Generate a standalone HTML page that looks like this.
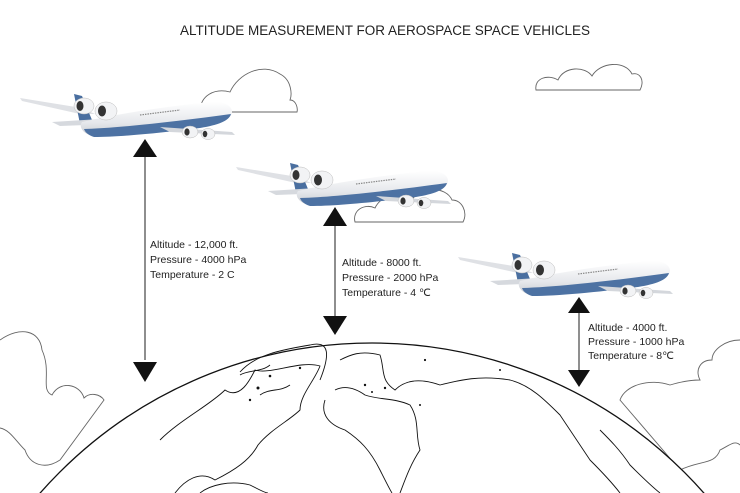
<!DOCTYPE html>
<html><head><meta charset="utf-8"><style>
html,body{margin:0;padding:0;background:#fff;width:740px;height:493px;overflow:hidden}
svg{display:block}
text{font-family:"Liberation Sans",sans-serif;fill:#222}
</style></head><body>
<svg width="740" height="493" viewBox="0 0 740 493" xmlns="http://www.w3.org/2000/svg" style="position:absolute;left:0;top:0">
<defs>
<linearGradient id="fus" x1="0" y1="0" x2="0" y2="1">
<stop offset="0" stop-color="#ffffff"/><stop offset="0.6" stop-color="#e6e8ec"/><stop offset="1" stop-color="#c9ccd2"/>
</linearGradient>
<g id="plane">
<polygon points="0,12 62,22 75,28 60,28 2,15" fill="#dfe1e5"/>
<polygon points="54,8 62,10 72,34 60,38" fill="#4a6fa0"/>
<polygon points="32,36 80,33 92,38 40,40" fill="#d6d9de"/>
<path d="M62,36 C95,28 150,20 190,16 C205,15 212,20 212,26 C212,33 200,38 180,41 C140,46 100,50 74,50 C64,49 58,41 62,36 Z" fill="url(#fus)"/>
<path d="M64,43 C100,42 160,35 211,28 C209,35 198,39 180,42 C140,47 100,51 74,51 C68,49 65,46 64,43 Z" fill="#4d72a3"/>
<polygon points="140,41 212,46 215,49 150,46" fill="#d4d7dc"/>
<ellipse cx="64" cy="20" rx="10" ry="8" fill="#f2f3f5" stroke="#bbb" stroke-width="0.5"/>
<ellipse cx="60" cy="20" rx="3.5" ry="5" fill="#333"/>
<ellipse cx="86" cy="25" rx="11" ry="9" fill="#f2f3f5" stroke="#bbb" stroke-width="0.5"/>
<ellipse cx="82" cy="25" rx="4" ry="5.5" fill="#333"/>
<ellipse cx="170" cy="46" rx="8" ry="6" fill="#f2f3f5" stroke="#bbb" stroke-width="0.5"/>
<ellipse cx="167" cy="46" rx="2.6" ry="3.6" fill="#333"/>
<ellipse cx="188" cy="48" rx="7" ry="5.5" fill="#f2f3f5" stroke="#bbb" stroke-width="0.5"/>
<ellipse cx="185" cy="48" rx="2.3" ry="3.2" fill="#333"/>
<line x1="120" y1="29" x2="160" y2="24" stroke="#888" stroke-width="1.2" stroke-dasharray="1.5 1"/>
</g>
</defs>

<text x="385" y="35" font-size="13.5" text-anchor="middle" fill="#222">ALTITUDE MEASUREMENT FOR AEROSPACE SPACE VEHICLES</text>

<g fill="none" stroke="#666" stroke-width="0.9">
<path d="M200,112 C200,95 215,88 230,92 C238,74 262,62 280,74 C292,80 292,95 290,100 C296,100 298,108 297,112 Z" fill="#fff"/>
<path d="M536,90 C534,78 548,74 558,80 C564,66 585,66 592,76 C600,62 625,60 632,74 C640,72 645,80 640,90 Z" fill="#fff"/>
<path d="M355,222 C352,210 365,203 375,208 C382,193 405,190 412,200 C420,186 446,186 452,200 C462,200 468,212 463,222 Z" fill="#fff"/>
<path d="M0,340 C20,326 40,330 42,350 C52,372 40,390 52,395 C60,380 80,384 84,398 C90,392 100,394 104,400 L60,460 C45,470 30,465 25,450 C15,440 10,430 0,428" fill="#fff"/>
<path d="M740,340 C725,340 712,350 712,360 C700,360 695,370 700,380 C690,380 680,382 670,385 C650,378 625,385 620,400 L680,470 C700,460 715,465 720,450 C730,445 735,440 740,445" fill="#fff"/>
</g>

<circle cx="372" cy="785" r="442" fill="#fff" stroke="#111" stroke-width="1.3"/>
<g fill="none" stroke="#111" stroke-width="0.9">
<path d="M160,440 C180,420 210,405 225,390 C240,400 250,380 255,370 C270,375 300,360 320,366 C315,380 300,395 300,410 C290,420 270,430 258,445 C250,460 235,470 215,480 C200,470 185,480 175,493"/>
<path d="M260,395 C270,388 280,392 290,385 M240,375 C248,370 262,372 270,365"/>
<path d="M240,372 C255,355 280,350 310,345 C330,340 330,355 320,380"/>
<path d="M340,360 C350,355 360,350 380,355 C385,370 380,380 395,390 C405,380 420,378 440,385 C460,380 480,375 510,380 C530,385 545,400 560,415 C570,430 580,445 590,460 C600,470 610,480 620,493"/>
<path d="M335,390 C345,385 355,388 365,395 C380,400 395,398 410,405 C420,420 415,435 420,450 C410,465 405,480 400,493"/>
<path d="M325,400 C320,415 330,425 345,430 C360,440 370,450 380,470 C385,480 390,490 392,493"/>
<path d="M200,493 C210,485 230,480 250,485 C260,490 265,493 268,493"/>
<path d="M600,430 C610,440 620,450 630,465 C640,475 650,485 660,493"/>
</g>
<g fill="#111">
<circle cx="258" cy="388" r="1.5"/><circle cx="270" cy="376" r="1.3"/><circle cx="300" cy="368" r="1.2"/><circle cx="250" cy="400" r="1.2"/>
<circle cx="365" cy="385" r="1.2"/><circle cx="372" cy="392" r="1"/><circle cx="420" cy="405" r="1"/>
<circle cx="385" cy="388" r="1.2"/><circle cx="425" cy="360" r="1.1"/><circle cx="500" cy="370" r="1"/>
</g>

<use href="#plane" x="20" y="86"/>
<use href="#plane" x="236" y="155"/>
<use href="#plane" x="458" y="245"/>

<g stroke="#444" stroke-width="1.2">
<line x1="145" y1="155" x2="145" y2="360"/>
<line x1="335" y1="225" x2="335" y2="320"/>
<line x1="579" y1="310" x2="579" y2="372"/>
</g>
<g fill="#111">
<polygon points="145,139 133,157 157,157"/>
<polygon points="145,382 133,362 157,362"/>
<polygon points="335,207 323,226 347,226"/>
<polygon points="335,335 323,316 347,316"/>
<polygon points="579,297 568,313 590,313"/>
<polygon points="579,387 568,370 590,370"/>
</g>

<g font-size="10.5">
<text x="150" y="248">Altitude - 12,000 ft.</text>
<text x="150" y="263">Pressure - 4000 hPa</text>
<text x="150" y="278">Temperature - 2 C</text>
<text x="342" y="266">Altitude - 8000 ft.</text>
<text x="342" y="281">Pressure - 2000 hPa</text>
<text x="342" y="296">Temperature - 4 ℃</text>
<text x="588" y="331">Altitude - 4000 ft.</text>
<text x="588" y="345">Pressure - 1000 hPa</text>
<text x="588" y="359">Temperature - 8℃</text>
</g>
</svg>
</body></html>
